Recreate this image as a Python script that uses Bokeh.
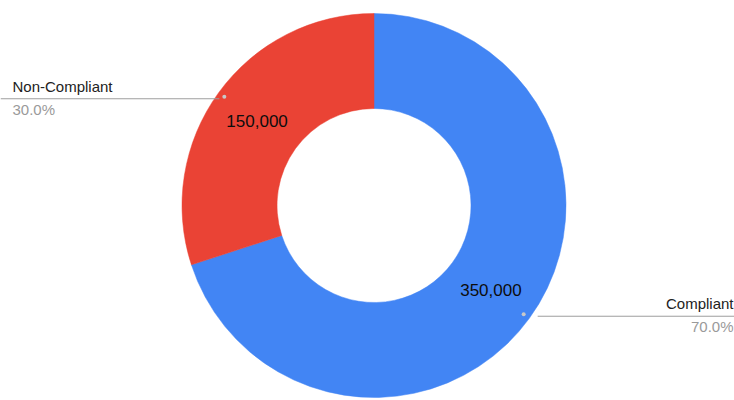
import math
from bokeh.plotting import figure
from bokeh.models import Range1d
from bokeh.embed import file_html
from bokeh.resources import INLINE
from bokeh.core.properties import value

categories = ["Compliant", "Non-Compliant"]
counts = [350000, 150000]
value_labels = ["350,000", "150,000"]
colors = ["#4285F4", "#EA4335"]

W, H = 734, 400
p = figure(width=W, height=H, output_backend="svg", toolbar_location=None,
           x_range=Range1d(0, W), y_range=Range1d(0, H), min_border=0,
           outline_line_color=None, background_fill_color="white",
           border_fill_color="white")
p.axis.visible = False
p.grid.visible = False

cx, cy = 373.5, H - 205.0
r_out, r_in = 192.0, 97.0
total = sum(counts)

start = math.pi / 2
starts, ends, mids = [], [], []
for c in counts:
    frac = c / total
    end = start - frac * 2 * math.pi
    starts.append(start)
    ends.append(end)
    mids.append((start + end) / 2)
    start = end

p.annular_wedge(x=[cx] * len(counts), y=[cy] * len(counts), inner_radius=r_in,
                outer_radius=r_out, start_angle=starts, end_angle=ends,
                direction="clock", fill_color=colors, line_color=colors, line_width=0.5)

r_mid = (r_in + r_out) / 2
vx = [cx + r_mid * math.cos(a) for a in mids]
vy = [cy + r_mid * math.sin(a) for a in mids]
p.text(x=vx, y=vy, text=value_labels, text_align="center", text_baseline="middle",
       text_font=value("Liberation Sans"), text_font_size="17px", text_color="#0d0d0d")

r_dot = 185.0
for i, cat in enumerate(categories):
    a = mids[i]
    dx = cx + r_dot * math.cos(a)
    dy = cy + r_dot * math.sin(a)
    pct = f"{counts[i] / total * 100:.1f}%"
    line_y = dy - 2
    if math.cos(a) >= 0:
        x_edge = W - 1
        p.line([dx + 14, W], [line_y, line_y], line_color="#9e9e9e", line_width=1)
        align = "right"
    else:
        x_edge = 12
        p.line([0, dx - 5], [line_y, line_y], line_color="#9e9e9e", line_width=1)
        align = "left"
    p.scatter([dx], [dy], size=4, fill_color="#c8c8c8", line_color=None)
    p.text(x=[x_edge], y=[line_y + 4], text=[cat], text_align=align,
           text_baseline="bottom", text_font=value("Liberation Sans"),
           text_font_size="15px", text_color="#222222")
    p.text(x=[x_edge], y=[line_y - 2], text=[pct], text_align=align,
           text_baseline="top", text_font=value("Liberation Sans"),
           text_font_size="15px", text_color="#9a9a9a")

open("out.html", "w").write(file_html(p, INLINE))
